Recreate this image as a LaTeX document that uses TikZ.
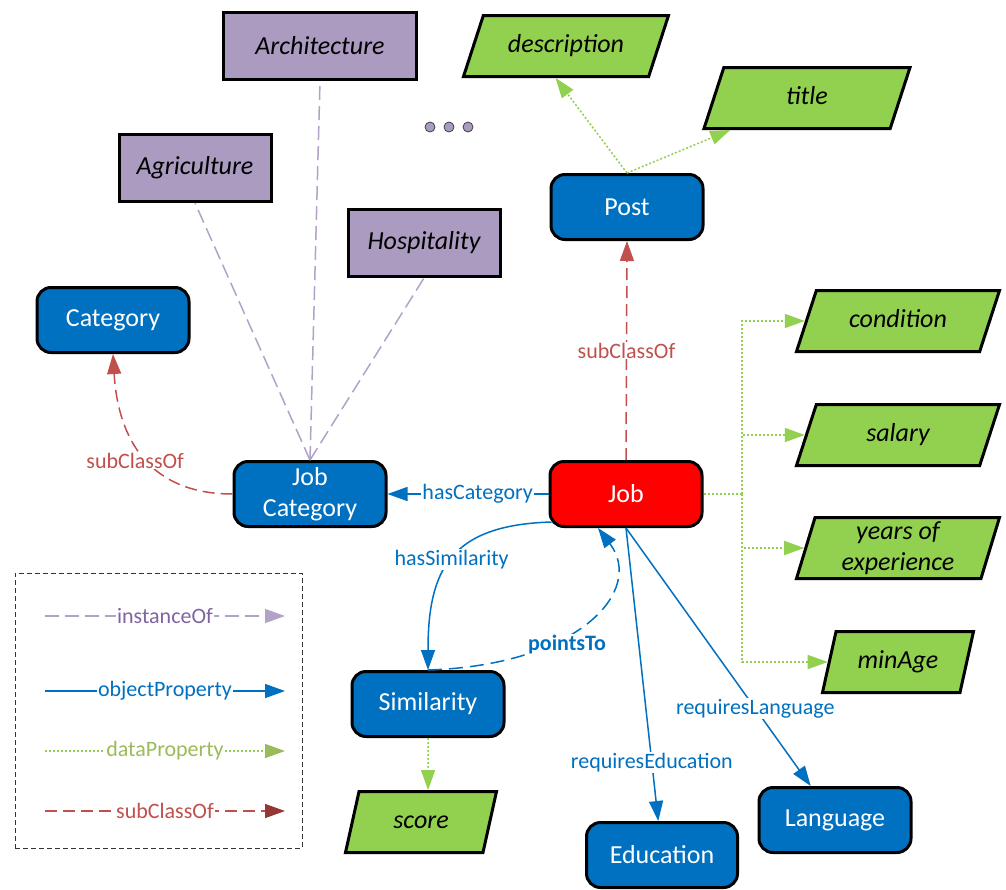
\documentclass[tikz,border=0pt]{standalone}
\usepackage{fontspec}
\setmainfont{Carlito}
\usepackage{tikz}
\usetikzlibrary{positioning}
\usetikzlibrary{shapes.geometric}
\usetikzlibrary{arrows.meta}

\definecolor{clsblue}{RGB}{0,112,192}
\definecolor{jobred}{RGB}{255,0,0}
\definecolor{datagreen}{RGB}{146,208,80}
\definecolor{instfill}{RGB}{171,155,192}
\definecolor{instline}{RGB}{179,162,199}
\definecolor{insttext}{RGB}{128,100,162}
\definecolor{subred}{RGB}{192,80,77}
\definecolor{subdark}{RGB}{149,55,53}
\definecolor{dptext}{RGB}{155,187,89}

\newcommand\boxfont{\fontsize{26}{31}\selectfont}
\newcommand\lblfont{\fontsize{22}{26}\selectfont}

\tikzset{
  classbox/.style={draw=black,line width=3pt,fill=clsblue,rounded corners=14pt,
    minimum width=152pt,minimum height=65pt,text=white,font=\boxfont,align=center},
  instbox/.style={draw=black,line width=3pt,fill=instfill,
    minimum width=152pt,minimum height=67pt,font=\boxfont\itshape},
  databox/.style={trapezium,trapezium left angle=72,trapezium right angle=108,
    trapezium stretches body,draw=black,line width=3pt,fill=datagreen,
    text height=19pt,text depth=6pt,inner ysep=18pt,
    minimum width=203pt,minimum height=61pt,font=\boxfont\itshape,align=center},
  smalldata/.style={databox,trapezium left angle=77.5,trapezium right angle=102.5,
    minimum width=151pt},
  ellipsisdot/.style={circle,draw=black!75,line width=.8pt,fill=instfill,
    minimum size=10pt,inner sep=0pt},
  elabel/.style={fill=white,inner sep=1pt,font=\lblfont,text=clsblue},
  instof/.style={draw=instline,line width=1.5pt,dash pattern=on 14pt off 6pt},
  objprop/.style={draw=clsblue,line width=1.5pt},
  dataprop/.style={draw=datagreen,line width=1.5pt,dash pattern=on 2pt off 2pt},
  subcls/.style={draw=subred,line width=1.5pt,dash pattern=on 12pt off 6pt}
}

\begin{document}
\begin{tikzpicture}[x=1pt,y=-1pt,>={Triangle[length=20pt,width=14pt]}]
\useasboundingbox (0,0) rectangle (1006,889);

\begin{scope}
    \node[instbox,minimum width=193pt] (Arch) at (320,46) {Architecture};
    \node[instbox] (Agri) at (195,168) {Agriculture};
    \node[instbox] (Hosp) at (424,243) {Hospitality};
    \foreach \i in {0,1,2}
        \node[ellipsisdot] (dot\i) at (430+19*\i,127) {};

    \node[classbox] (Cat) at (113,320) {Category};
    \node[classbox] (JobCat) at (310,494) {Job\\Category};
    \node[classbox,fill=jobred] (Job) at (626,494) {Job};
    \node[classbox] (Post) at (627,207) {Post};
    \node[classbox] (Sim) at (428,704) {Similarity};
    \node[classbox,minimum width=151pt] (Edu) at (662,855) {Education};
    \node[classbox] (Lang) at (835,820) {Language};

    \node[databox,minimum width=205pt] (desc) at (566,46) {description};
    \node[databox,minimum width=206pt] (title) at (807,98) {title};
    \node[databox] (cond) at (898,321) {condition};
    \node[databox] (sal) at (898,435) {salary};
    \node[databox,text height=,text depth=,inner ysep=2pt] (exp) at (898,548) {years of\\experience};
    \node[smalldata] (age) at (898,662) {minAge};
    \node[smalldata] (score) at (421,822) {score};
\end{scope}

\begin{scope}
    \foreach \b in {Agri,Arch,Hosp}
        \draw[instof] (JobCat.north) -- (\b.south);

    \draw[subcls,->,>={Triangle[length=20pt,width=14pt,color=subred]}] (JobCat.west)
        .. controls (150,494) and (118,440) .. node[elabel,text=subred,pos=.47,xshift=-12pt] {subClassOf} (Cat.south);
    \draw[subcls,->,>={Triangle[length=20pt,width=14pt,color=subred]}] (Job.north)
        -- node[elabel,text=subred] {subClassOf} (Post.south);

    \draw[objprop,->] (Job.west) -- node[elabel,pos=.44] {hasCategory} (JobCat.east);
    \draw[objprop,->] ([shift={(3,-6)}]Job.south west)
        .. controls (450,525) and (428,570) .. node[elabel,pos=.5] {hasSimilarity} (Sim.north);
    \draw[objprop,dash pattern=on 14pt off 7pt,->] (Sim.north)
        .. controls (580,665) and (645,590) .. node[elabel,pos=.4,yshift=-9pt,font=\lblfont\bfseries] {pointsTo} ([xshift=-28]Job.south);
    \draw[objprop,->] (Job.south) -- node[elabel,pos=.8] {requiresEducation} (Edu);
    \draw[objprop,->] (Job.south) -- node[elabel,pos=.7] {requiresLanguage} (Lang);

    \coordinate (fork) at (742,494);
    \draw[dataprop] (Job.east) -- (fork);
    \foreach \d in {cond,sal,exp,age}
        \draw[dataprop,->,>={Triangle[length=20pt,width=14pt,color=datagreen]}] (fork) |- (\d.west);
    \draw[dataprop,->,>={Triangle[length=20pt,width=14pt,color=datagreen]}] (Post.north) -- (desc.bottom side);
    \draw[dataprop,->,>={Triangle[length=20pt,width=14pt,color=datagreen]}] (Post.north) -- (title);
    \draw[dataprop,->,>={Triangle[length=20pt,width=14pt,color=datagreen]}] (Sim.south) -- (score.top side);
\end{scope}

% legend
\begin{scope}
    \node[draw=black!80,line width=.8pt,dash pattern=on 5pt off 3pt,
          minimum width=287pt,minimum height=275pt] (legend) at (158.5,710.5) {};
    \coordinate (lgI1) at (45,616);  \coordinate (lgI2) at (285,616);
    \coordinate (lgO1) at (45,691);  \coordinate (lgO2) at (285,691);
    \coordinate (lgD1) at (45,751);  \coordinate (lgD2) at (285,751);
    \coordinate (lgS1) at (45,811);  \coordinate (lgS2) at (285,811);
    \draw[instof,->,>={Triangle[length=20pt,width=14pt,color=instline]}] (lgI1)
        -- node[elabel,text=insttext] {instanceOf} (lgI2);
    \draw[objprop,->] (lgO1) -- node[elabel] {objectProperty} (lgO2);
    \draw[dataprop,->,>={Triangle[length=20pt,width=14pt,color=dptext]}] (lgD1)
        -- node[elabel,text=dptext] {dataProperty} (lgD2);
    \draw[subcls,->,>={Triangle[length=20pt,width=14pt,color=subdark]}] (lgS1)
        -- node[elabel,text=subred] {subClassOf} (lgS2);
\end{scope}
\end{tikzpicture}
\end{document}
